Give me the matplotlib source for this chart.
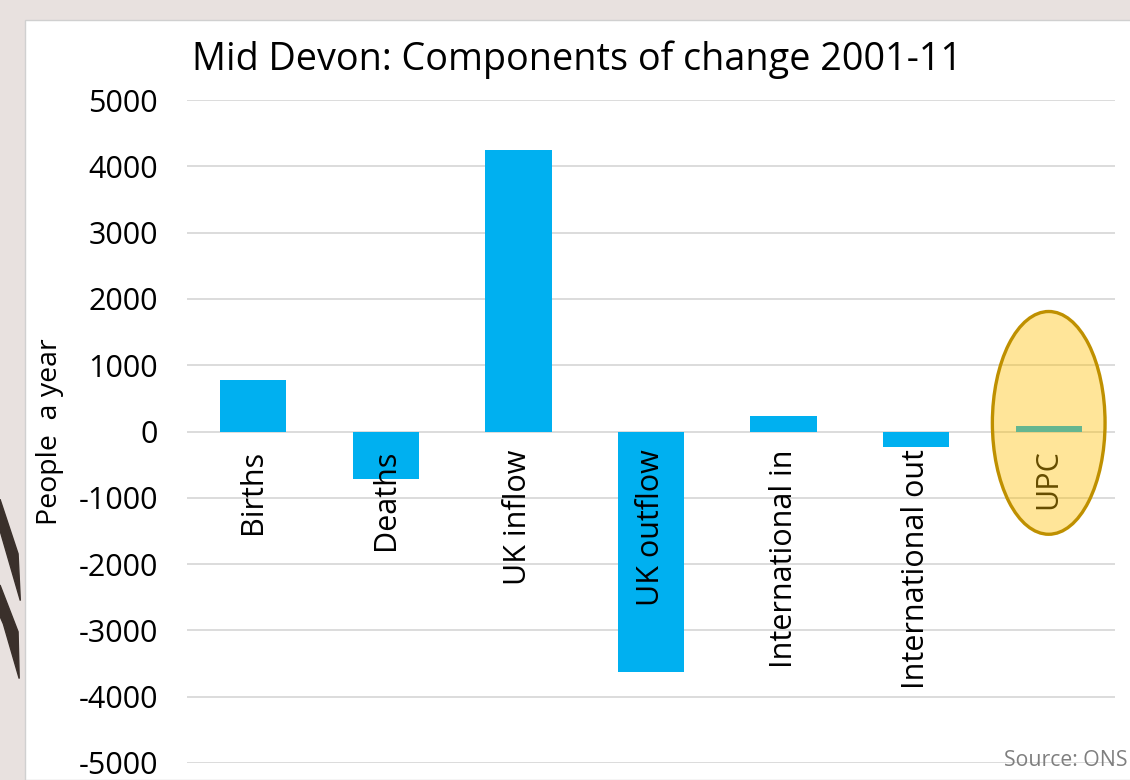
import numpy as np
import matplotlib.pyplot as plt
from matplotlib.patches import Ellipse, Rectangle, Polygon

plt.rcParams['font.family'] = ['Open Sans', 'DejaVu Sans']

categories = ['Births', 'Deaths', 'UK inflow', 'UK outflow',
              'International in', 'International out', 'UPC']
values = [780, -720, 4240, -3620, 230, -235, 90]
yticks = [5000, 4000, 3000, 2000, 1000, 0, -1000, -2000, -3000, -4000, -5000]

fig = plt.figure(figsize=(11.3, 7.8), dpi=100)
fig.patch.set_facecolor('#E8E1DF')

# white slide panel + decorative dark strokes on the left
fig.add_artist(Rectangle((25 / 1130, 0), 1, 1 - 20 / 780, transform=fig.transFigure,
                         facecolor='white', edgecolor='#D0D0D0', lw=1, zorder=0))
fig.add_artist(Polygon([(0, 0.36), (0.016, 0.29), (0.018, 0.23), (0.004, 0.30), (0, 0.32)],
                       closed=True, transform=fig.transFigure, color='#3A302B', zorder=1))
fig.add_artist(Polygon([(0, 0.25), (0.016, 0.19), (0.017, 0.13), (0.003, 0.20), (0, 0.21)],
                       closed=True, transform=fig.transFigure, color='#3A302B', zorder=1))

ax = fig.add_axes([187 / 1130, 1 - 763 / 780, (1115 - 187) / 1130, (763 - 100) / 780])
ax.set_facecolor('none')

x = np.arange(len(categories))
ax.bar(x, values, width=0.5, color='#00B0F0', zorder=3)

ax.set_xlim(-0.5, len(categories) - 0.5)
ax.set_ylim(-5000, 5000)
ax.set_yticks(yticks)
ax.set_yticklabels([str(v) for v in yticks])
ax.tick_params(axis='y', length=0, labelsize=22, pad=21)
ax.set_xticks([])
ax.grid(axis='y', color='#D9D9D9', lw=1.3, zorder=0)
for s in ax.spines.values():
    s.set_visible(False)

for i, c in enumerate(categories):
    ax.text(i, -270, c, rotation=90, ha='center', va='top', fontsize=22,
            color='black', zorder=4)

ax.set_ylabel('People  a year', fontsize=20.5, labelpad=10)

# highlight round UPC
ax.add_patch(Ellipse((6, 130), 0.85, 3360, facecolor=(1, 0.753, 0, 0.4),
                     edgecolor='#BF9000', lw=2.4, zorder=6))

fig.text(192 / 1130, 1 - 60 / 780, 'Mid Devon: Components of change 2001-11',
         fontsize=27.2, va='center', ha='left')
fig.text(0.998, 1 - 760 / 780, 'Source: ONS', fontsize=15.3, color='#7F7F7F',
         ha='right', va='center')

fig.savefig('out.png', dpi=100, facecolor=fig.get_facecolor())
